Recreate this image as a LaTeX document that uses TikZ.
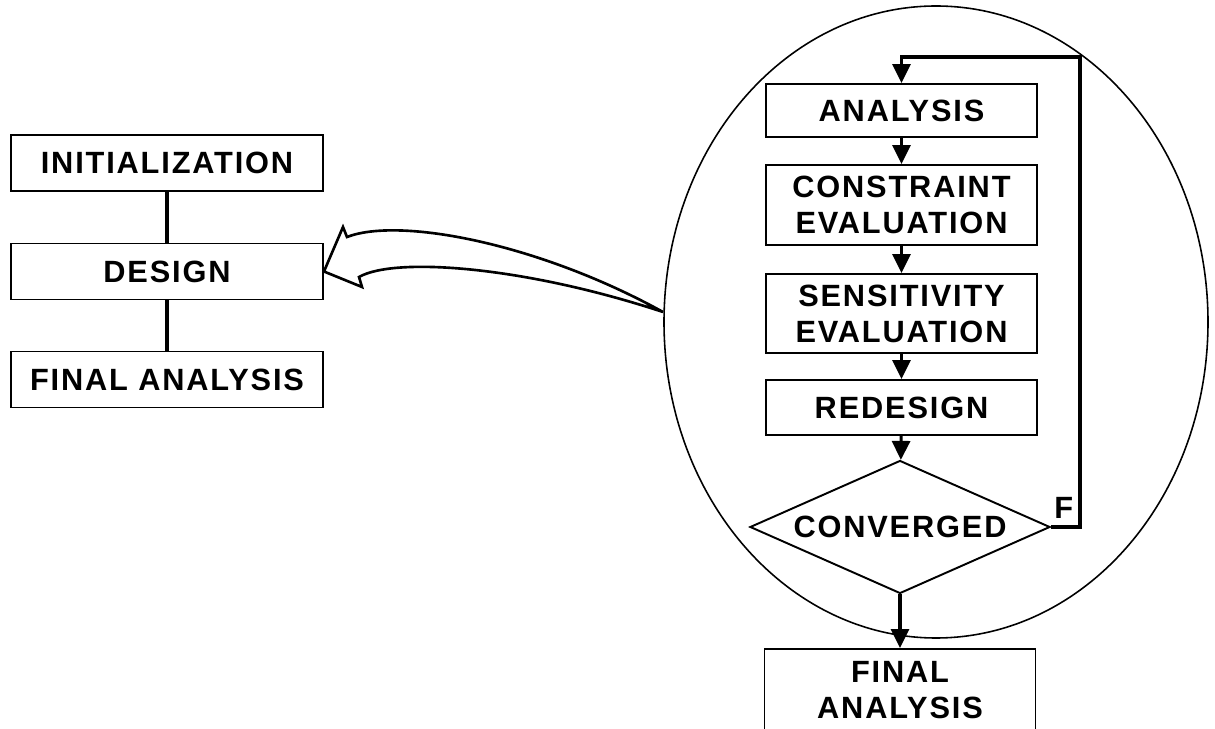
\documentclass[tikz,border=0pt]{standalone}
\usepackage{fontspec}
\usepackage{tikz}
\usetikzlibrary{arrows.meta,shapes.geometric}

\newfontfamily\boxfont[LetterSpace=6]{Liberation Sans}

\tikzset{
  box/.style={draw, line width=1.1pt, minimum width=5.42cm, align=center,
    inner sep=0pt, font=\boxfont\bfseries\fontsize{17.5}{20.5}\selectfont},
  leftbox/.style={box, minimum width=6.24cm, minimum height=1.12cm},
  link/.style={line width=1.8pt},
  flow/.style={line width=1.8pt, -{Triangle[length=3.8mm, width=3.6mm]}},
  outline/.style={line width=0.9pt}
}

\begin{document}
\begin{tikzpicture}
  \useasboundingbox (0,0) rectangle (24.3,14.58);

  % top level steps
  \node[leftbox] (init) at (3.34,11.32) {INITIALIZATION};
  \node[leftbox] (design) at (3.34,9.15) {DESIGN};
  \node[leftbox] (final) at (3.34,6.99) {FINAL ANALYSIS};
  \draw[link] (init) -- (design);
  \draw[link] (design) -- (final);

  % design loop
  \node[box, minimum height=1.06cm] (ana) at (18.03,12.37) {ANALYSIS};
  \node[box, minimum height=1.6cm] (cons) at (18.03,10.48) {CONSTRAINT\\EVALUATION};
  \node[box, minimum height=1.58cm] (sens) at (18.03,8.31) {SENSITIVITY\\EVALUATION};
  \node[box, minimum height=1.1cm] (redes) at (18.03,6.43) {REDESIGN};
  \node[draw, diamond, aspect=2.25, line width=1.1pt, minimum width=6.0cm, minimum height=2.66cm,
    inner sep=0pt, font=\boxfont\bfseries\fontsize{17.5}{20.5}\selectfont]
    (conv) at (18.0,4.04) {CONVERGED};
  \node[box, minimum height=1.64cm] (fin) at (18.0,0.78) {FINAL\\ANALYSIS};

  \draw[flow] (ana) -- (cons);
  \draw[flow] (cons) -- (sens);
  \draw[flow] (sens) -- (redes);
  \draw[flow] (redes) -- (conv);
  \draw[flow] (conv) -- (fin);

  % back to analysis when not converged
  \coordinate (loopc) at (21.6,13.44);
  \draw[flow] (conv.east) -| (loopc) -| (ana.north);
  \node[anchor=base west, inner sep=0pt, font=\boxfont\bfseries\fontsize{17.5}{20.5}\selectfont]
    (flab) at ([shift={(0.06,0.16)}]conv.east) {F};

  % expansion of the design step
  \draw[outline] (18.72,8.14) ellipse [x radius=5.44, y radius=6.32];
  \draw[line width=1.5pt, line join=miter]
    (13.26,8.34) .. controls (10.8,9.7) and (8.0,10.25) .. (6.94,9.84)
    -- (6.86,10.04) -- (design.east) -- (7.24,8.84) -- (7.18,9.04)
    .. controls (7.9,9.45) and (10.5,9.25) .. (13.26,8.34);
\end{tikzpicture}
\end{document}
